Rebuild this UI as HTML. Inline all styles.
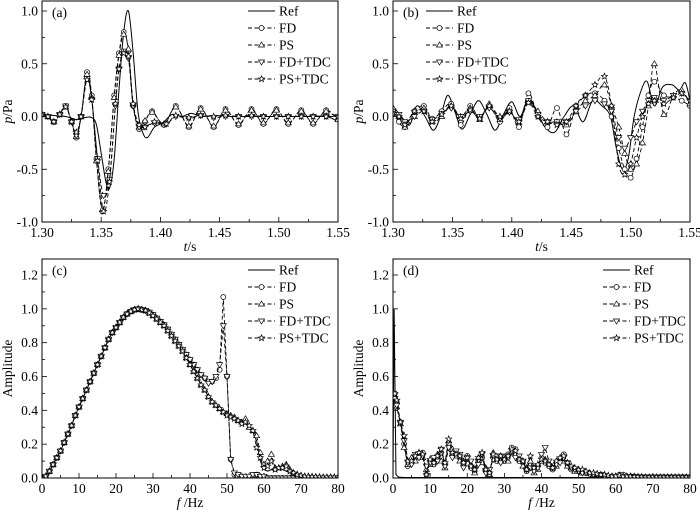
<!DOCTYPE html>
<html><head><meta charset="utf-8"><style>
html,body{margin:0;padding:0;background:#fff}
svg text{font-family:"Liberation Serif",serif;fill:#000}
</style></head><body>
<svg id="fig" width="700" height="512" viewBox="0 0 700 512" xmlns="http://www.w3.org/2000/svg"></svg>
<script>
// ---------- Panel (a) data ----------
const aRefT=[1.300,1.310,1.320,1.330,1.336,1.342,1.346,1.350,1.354,1.357,1.361,1.365,1.369,1.373,1.377,1.381,1.385,1.389,1.395,1.402,1.410,1.418,1.426,1.435,1.445,1.460,1.480,1.500,1.520,1.540,1.550];
const aRefV=[0.02,0.01,0.0,-0.03,-0.01,-0.01,-0.08,-0.35,-0.62,-0.68,-0.4,0.25,0.8,1.0,0.6,0.05,-0.15,-0.2,-0.1,-0.06,0.02,0.0,0.03,0.0,0.01,0.0,0.0,0.0,0.0,0.0,-0.05];
const aFDT=[1.300,1.305,1.310,1.315,1.320,1.325,1.329,1.333,1.338,1.342,1.346,1.351,1.356,1.361,1.365,1.369,1.373,1.377,1.382,1.387,1.393,1.403,1.413,1.424,1.434,1.445,1.455,1.466,1.477,1.487,1.498,1.508,1.519,1.529,1.540,1.550];
const aFDV=[0.02,0.0,-0.05,0.02,0.1,-0.05,-0.2,0.0,0.42,0.2,-0.4,-0.9,-0.5,0.2,0.6,0.8,0.62,0.1,-0.12,-0.05,0.05,-0.08,0.1,-0.1,0.08,-0.1,0.07,-0.08,0.07,-0.07,0.07,-0.07,0.06,-0.07,0.06,-0.03];
const aPSV=[0.02,0.0,-0.05,0.02,0.09,-0.05,-0.19,0.0,0.4,0.18,-0.42,-0.88,-0.52,0.18,0.58,0.78,0.64,0.12,-0.1,-0.04,0.04,-0.07,0.09,-0.09,0.07,-0.09,0.06,-0.07,0.06,-0.06,0.06,-0.06,0.05,-0.06,0.05,-0.03];
const aTDCT=[1.300,1.305,1.310,1.315,1.320,1.325,1.329,1.333,1.338,1.342,1.347,1.352,1.357,1.362,1.365,1.369,1.373,1.377,1.382,1.387,1.395,1.405,1.413,1.424,1.434,1.445,1.455,1.466,1.477,1.487,1.498,1.508,1.519,1.529,1.540,1.550];
const aFDTV=[0.02,0.0,-0.05,0.02,0.1,-0.05,-0.18,0.0,0.36,0.16,-0.4,-0.75,-0.6,0.1,0.45,0.62,0.55,0.1,-0.1,-0.1,-0.06,-0.07,0.0,-0.02,0.01,-0.01,0.0,0.0,0.0,0.0,0.0,0.0,0.0,0.0,0.0,0.0];
const aPSTV=[0.02,0.0,-0.05,0.02,0.09,-0.05,-0.15,0.0,0.35,0.16,-0.42,-0.9,-0.62,0.12,0.45,0.6,0.57,0.12,-0.08,-0.1,-0.05,-0.07,0.01,-0.01,0.01,0.0,0.01,0.0,0.01,0.0,0.0,0.0,0.0,0.0,0.0,0.0];
// ---------- Panel (b) data ----------
const bRefT=[1.300,1.307,1.314,1.320,1.327,1.334,1.340,1.346,1.352,1.358,1.365,1.372,1.379,1.386,1.393,1.400,1.407,1.414,1.421,1.428,1.436,1.444,1.452,1.460,1.468,1.476,1.483,1.488,1.493,1.498,1.503,1.509,1.514,1.520,1.527,1.535,1.541,1.546,1.550];
const bRefV=[0.1,0.0,-0.08,0.1,0.0,-0.13,0.0,0.2,0.05,-0.12,0.02,0.15,0.02,-0.13,0.02,0.14,0.0,0.17,0.05,-0.1,-0.15,0.0,0.1,-0.05,0.15,0.1,0.0,-0.3,-0.5,-0.4,0.0,0.25,0.33,0.1,0.28,0.3,0.25,0.32,0.15];
const bFDT=[1.300,1.305,1.310,1.318,1.326,1.333,1.341,1.349,1.357,1.365,1.373,1.381,1.390,1.398,1.406,1.414,1.422,1.430,1.438,1.446,1.454,1.462,1.470,1.478,1.484,1.490,1.495,1.500,1.505,1.510,1.515,1.520,1.528,1.536,1.543,1.550];
const bFDV=[0.05,-0.05,-0.1,0.05,0.1,-0.02,0.05,0.12,-0.08,0.1,-0.02,0.1,-0.05,0.08,-0.1,0.22,0.0,-0.1,0.08,-0.17,0.1,0.2,0.22,0.15,0.0,-0.3,-0.5,-0.58,-0.4,-0.1,0.2,0.33,0.2,0.18,0.15,0.1];
const bPSV=[0.08,0.0,-0.1,0.0,0.08,-0.05,0.0,0.1,0.0,0.08,-0.03,0.12,-0.03,0.05,-0.06,0.14,0.05,-0.05,-0.05,-0.08,0.05,0.15,0.2,0.3,0.1,-0.1,-0.35,-0.5,-0.45,-0.25,0.1,0.5,0.02,0.2,0.25,0.12];
const bFDTV=[0.05,0.02,-0.05,0.0,0.05,-0.03,0.03,0.08,0.0,0.05,0.0,0.08,-0.02,0.04,-0.03,0.15,0.02,-0.05,-0.05,-0.05,0.05,0.1,0.15,0.12,0.05,-0.2,-0.3,-0.2,-0.05,0.05,0.15,0.18,0.15,0.2,0.22,0.15];
const bPSTV=[0.03,0.0,-0.08,0.05,0.05,-0.05,0.02,0.1,-0.02,0.06,-0.02,0.1,0.0,0.05,-0.05,0.13,0.0,-0.05,-0.08,-0.05,0.1,0.2,0.3,0.38,0.1,-0.45,-0.55,-0.45,-0.2,0.0,0.12,0.15,0.12,0.18,0.22,0.15];
// ---------- Panel (c) data ----------
const cF=[0,1,2,3,4,5,6,7,8,9,10,11,12,13,14,15,16,17,18,19,20,21,22,23,24,25,26,27,28,29,30,31,32,33,34,35,36,37,38,39,40,41,42,43,44,45,46,47,48,49,50,51,52,53,54,55,56,57,58,59,60,61,62,63,64,65,66,67,68,69,70,71,72,73,74,75,76,77,78,79,80];
const cRef=[0,0.01,0.04,0.08,0.12,0.16,0.21,0.26,0.31,0.37,0.42,0.47,0.52,0.57,0.62,0.67,0.72,0.77,0.82,0.86,0.89,0.92,0.95,0.97,0.985,0.995,1.0,0.995,0.99,0.975,0.96,0.94,0.92,0.9,0.87,0.84,0.81,0.78,0.75,0.71,0.67,0.63,0.59,0.55,0.52,0.48,0.45,0.43,0.41,0.39,0.37,0.36,0.35,0.34,0.33,0.32,0.3,0.27,0.22,0.1,0.05,0.04,0.05,0.04,0.05,0.05,0.04,0.03,0.02,0.015,0.01,0.01,0.008,0.007,0.006,0.005,0.005,0.005,0.005,0.005,0.005];
const cFD=[0,0.01,0.04,0.08,0.12,0.16,0.21,0.26,0.31,0.37,0.42,0.47,0.52,0.57,0.62,0.67,0.72,0.77,0.82,0.86,0.89,0.92,0.95,0.97,0.985,0.995,1.0,0.995,0.99,0.98,0.965,0.945,0.925,0.905,0.88,0.85,0.82,0.79,0.76,0.73,0.7,0.67,0.64,0.61,0.59,0.57,0.57,0.59,0.64,1.07,0.6,0.11,0.02,0.01,0.01,0.01,0.01,0.015,0.02,0.01,0.01,0.0,0.0,0.0,0.0,0.0,0.0,0.0,0.0,0.0,0.0,0.0,0.0,0.0,0.0,0.0,0.0,0.0,0.0,0.0,0.0];
const cPS=[0,0.01,0.04,0.08,0.12,0.16,0.21,0.26,0.31,0.37,0.42,0.47,0.52,0.57,0.62,0.67,0.72,0.77,0.82,0.86,0.89,0.92,0.95,0.97,0.985,0.995,1.0,0.995,0.99,0.975,0.96,0.94,0.92,0.9,0.87,0.84,0.81,0.78,0.75,0.71,0.67,0.63,0.59,0.55,0.52,0.48,0.45,0.43,0.41,0.39,0.38,0.37,0.36,0.34,0.33,0.35,0.3,0.28,0.25,0.15,0.08,0.1,0.14,0.06,0.06,0.07,0.08,0.05,0.03,0.02,0.015,0.01,0.01,0.008,0.007,0.006,0.005,0.005,0.005,0.005,0.005];
const cFDT=[0,0.01,0.04,0.08,0.12,0.16,0.21,0.26,0.31,0.37,0.42,0.47,0.52,0.57,0.62,0.67,0.72,0.77,0.82,0.86,0.89,0.92,0.95,0.97,0.985,0.995,1.0,0.995,0.99,0.98,0.965,0.945,0.925,0.905,0.88,0.85,0.82,0.79,0.76,0.73,0.7,0.67,0.64,0.61,0.59,0.56,0.57,0.6,0.67,0.9,0.6,0.11,0.03,0.02,0.01,0.01,0.01,0.02,0.02,0.01,0.01,0.0,0.0,0.0,0.0,0.0,0.0,0.0,0.0,0.0,0.0,0.0,0.0,0.0,0.0,0.0,0.0,0.0,0.0,0.0,0.0];
const cPST=[0,0.01,0.04,0.08,0.12,0.16,0.21,0.26,0.31,0.37,0.42,0.47,0.52,0.57,0.62,0.67,0.72,0.77,0.82,0.86,0.89,0.92,0.95,0.97,0.985,0.995,1.0,0.995,0.99,0.975,0.96,0.94,0.92,0.9,0.87,0.84,0.81,0.78,0.75,0.71,0.67,0.63,0.59,0.55,0.52,0.48,0.45,0.43,0.41,0.39,0.37,0.36,0.35,0.34,0.32,0.33,0.31,0.28,0.18,0.12,0.06,0.07,0.1,0.05,0.06,0.06,0.07,0.04,0.03,0.02,0.015,0.01,0.01,0.008,0.007,0.006,0.005,0.005,0.005,0.005,0.005];
// ---------- Panel (d) data ----------
const dRefF=[0,0.3,0.8,1.5,3,80];
const dRefV=[0,1.0,0.02,0.005,0.003,0.003];
const dFD=[0.5,0.45,0.33,0.2,0.07,0.1,0.12,0.14,0.15,0.02,0.1,0.08,0.12,0.15,0.08,0.2,0.14,0.15,0.12,0.08,0.13,0.06,0.04,0.1,0.12,0.04,0.03,0.13,0.1,0.12,0.1,0.14,0.18,0.17,0.1,0.09,0.04,0.08,0.05,0.07,0.12,0.09,0.07,0.05,0.09,0.11,0.14,0.08,0.05,0.05,0.04,0.04,0.03,0.025,0.02,0.02,0.015,0.015,0.01,0.01,0.01,0.02,0.02,0.01,0.01,0.008,0.007,0.006,0.005,0.005,0.005,0.005,0.005,0.005,0.005,0.005,0.005,0.005,0.005,0.005,0.005];
const dPS=[0.48,0.42,0.32,0.18,0.08,0.12,0.1,0.15,0.12,0.05,0.08,0.1,0.14,0.1,0.06,0.22,0.17,0.13,0.1,0.1,0.11,0.08,0.03,0.12,0.09,0.06,0.02,0.15,0.12,0.1,0.12,0.1,0.15,0.14,0.12,0.07,0.06,0.1,0.03,0.05,0.1,0.11,0.09,0.06,0.07,0.1,0.1,0.07,0.06,0.04,0.05,0.03,0.03,0.03,0.02,0.02,0.02,0.015,0.01,0.01,0.01,0.015,0.01,0.01,0.01,0.008,0.007,0.006,0.005,0.005,0.005,0.005,0.005,0.005,0.005,0.005,0.005,0.005,0.005,0.005,0.005];
const dFDT=[0.47,0.43,0.33,0.22,0.09,0.08,0.14,0.12,0.13,0.07,0.09,0.12,0.1,0.17,0.07,0.18,0.12,0.16,0.14,0.06,0.12,0.1,0.05,0.08,0.14,0.03,0.05,0.11,0.13,0.09,0.13,0.12,0.16,0.12,0.13,0.1,0.05,0.06,0.04,0.06,0.14,0.18,0.1,0.06,0.08,0.09,0.12,0.09,0.06,0.05,0.04,0.03,0.03,0.02,0.02,0.02,0.02,0.01,0.01,0.01,0.01,0.01,0.01,0.01,0.01,0.008,0.007,0.006,0.005,0.005,0.005,0.005,0.005,0.005,0.005,0.005,0.005,0.005,0.005,0.005,0.005];
const dPST=[0.5,0.46,0.33,0.25,0.1,0.1,0.13,0.15,0.14,0.02,0.11,0.09,0.13,0.17,0.09,0.23,0.15,0.14,0.13,0.09,0.12,0.07,0.05,0.12,0.15,0.05,0.03,0.14,0.11,0.13,0.11,0.13,0.17,0.16,0.11,0.1,0.05,0.13,0.06,0.08,0.11,0.1,0.08,0.06,0.1,0.12,0.13,0.09,0.07,0.06,0.05,0.05,0.04,0.03,0.03,0.025,0.02,0.02,0.015,0.01,0.01,0.015,0.01,0.01,0.01,0.008,0.007,0.006,0.005,0.005,0.005,0.005,0.005,0.005,0.005,0.005,0.005,0.005,0.005,0.005,0.005];
const dF=[0.5,1,2,3,4,5,6,7,8,9,10,11,12,13,14,15,16,17,18,19,20,21,22,23,24,25,26,27,28,29,30,31,32,33,34,35,36,37,38,39,40,41,42,43,44,45,46,47,48,49,50,51,52,53,54,55,56,57,58,59,60,61,62,63,64,65,66,67,68,69,70,71,72,73,74,75,76,77,78,79,80];
// ---------- tick labels ----------
const tTicks=[1.30,1.35,1.40,1.45,1.50,1.55];
const pTicks=[-1.0,-0.5,0.0,0.5,1.0];
const fTicks=[0,10,20,30,40,50,60,70,80];
const ampTicks=[0.0,0.2,0.4,0.6,0.8,1.0,1.2];
const legendNames=["Ref","FD","PS","FD+TDC","PS+TDC"];

const NS="http://www.w3.org/2000/svg";
const svg=document.getElementById('fig');
function mk(tag,attrs,parent){const e=document.createElementNS(NS,tag);for(const k in attrs)e.setAttribute(k,attrs[k]);(parent||svg).appendChild(e);return e;}
function txt(s,x,y,opts,parent){const e=mk('text',Object.assign({x:x,y:y,'font-size':13.5},opts||{}),parent);e.textContent=s;return e;}

function marker(g,type,x,y){
  const st={fill:'#fff',stroke:'#000','stroke-width':0.7};
  let e;
  if(type==='circle'){e=mk('circle',Object.assign({cx:x,cy:y,r:2.5},st),g);}
  else if(type==='up'){e=mk('polygon',Object.assign({points:`${x},${y-3} ${x+3},${y+2} ${x-3},${y+2}`},st),g);}
  else if(type==='down'){e=mk('polygon',Object.assign({points:`${x},${y+3} ${x+3},${y-2} ${x-3},${y-2}`},st),g);}
  else if(type==='star'){let p=[];for(let i=0;i<10;i++){const r=i%2?1.4:3.2,a=-Math.PI/2+i*Math.PI/5;p.push((x+r*Math.cos(a)).toFixed(1)+','+(y+r*Math.sin(a)).toFixed(1));}e=mk('polygon',Object.assign({points:p.join(' ')},st),g);}
  if(e){}
}
function smoothPath(pts){
  let d=`M${pts[0][0]},${pts[0][1]}`;
  for(let i=0;i<pts.length-1;i++){
    const p0=pts[Math.max(0,i-1)],p1=pts[i],p2=pts[i+1],p3=pts[Math.min(pts.length-1,i+2)];
    const c1=[p1[0]+(p2[0]-p0[0])/6,p1[1]+(p2[1]-p0[1])/6],c2=[p2[0]-(p3[0]-p1[0])/6,p2[1]-(p3[1]-p1[1])/6];
    d+=` C${c1[0].toFixed(2)},${c1[1].toFixed(2)} ${c2[0].toFixed(2)},${c2[1].toFixed(2)} ${p2[0].toFixed(2)},${p2[1].toFixed(2)}`;
  }
  return d;
}
const mtypes=[null,'circle','up','down','star'];

function panel(cfg){
  const g=mk('g',{});
  
  
  const L=cfg.L,R=cfg.R,T=cfg.T,B=cfg.B;
  const sx=v=>L+(v-cfg.x0)/(cfg.x1-cfg.x0)*(R-L);
  const sy=v=>cfg.Y0+(v-cfg.y0)/(cfg.y1-cfg.y0)*(cfg.Y1-cfg.Y0);
  const clip='clip-'+cfg.id;
  const cp=mk('clipPath',{id:clip},g);mk('rect',{x:L,y:T,width:R-L,height:B-T},cp);
  const tg=mk('g',{stroke:'#000','stroke-width':0.8},g);
  
  cfg.xt.forEach((v,i)=>{const x=sx(v);mk('line',{x1:x,y1:B,x2:x,y2:B-5},tg);
    if(i<cfg.xt.length-1){const xm=sx((v+cfg.xt[i+1])/2);mk('line',{x1:xm,y1:B,x2:xm,y2:B-3},tg);}
    const t=txt(cfg.xfmt(v),x,B+15,{'text-anchor':'middle'},g);});
  cfg.yt.forEach((v,i)=>{const y=sy(v);mk('line',{x1:L,y1:y,x2:L+5,y2:y},tg);
    if(i<cfg.yt.length-1){const ym=sy((v+cfg.yt[i+1])/2);mk('line',{x1:L,y1:ym,x2:L+3,y2:ym},tg);}
    const t=txt(v.toFixed(1),L-4,y+4.5,{'text-anchor':'end'},g);});
  const sg=mk('g',{'clip-path':`url(#${clip})`},g);
  cfg.series.forEach((s,k)=>{
    const pts=s.x.map((v,i)=>[sx(v),sy(s.y[i])]);
    const d=cfg.smooth?smoothPath(pts):'M'+pts.map(p=>p[0].toFixed(2)+','+p[1].toFixed(2)).join(' L');
    const p=mk('path',{d:d,fill:'none',stroke:'#000','stroke-width':k===0?1:0.9,'stroke-dasharray':k===0?'none':'4,2.5'},sg);
    
    
    if(k>0){pts.forEach((pt,i)=>{marker(sg,mtypes[k],pt[0],pt[1]);});}
  });
  const fr=mk('rect',{x:L,y:T,width:R-L,height:B-T,fill:'none',stroke:'#000','stroke-width':1},g);
  
  const pl=txt(cfg.label,L+10,T+cfg.labelDy,{},g);
  const lg=mk('g',{},g);
  legendNames.forEach((n,k)=>{
    const y=cfg.legY+k*17;
    const e=mk('g',{},lg);
    mk('line',{x1:cfg.legX,y1:y,x2:cfg.legX+27,y2:y,stroke:'#000','stroke-width':k===0?1:0.9,'stroke-dasharray':k===0?'none':'4,2.5'},e);
    if(k>0)marker(e,mtypes[k],cfg.legX+13.5,y);
    txt(n,cfg.legX+31,y+4.5,{},e);
  });
  const xt=mk('text',{x:(L+R)/2,y:B+29,'font-size':13.5,'text-anchor':'middle'},g);
  
  xt.innerHTML=cfg.xtitle;
  const yt=mk('text',{x:0,y:0,'font-size':13.5,'text-anchor':'middle',transform:`translate(${L-30},${(T+B)/2}) rotate(-90)`},g);
  
  yt.innerHTML=cfg.ytitle;
}
const pfmt=v=>v.toFixed(2), ffmt=v=>String(v);
const tsTitle='<tspan font-style="italic">t</tspan>/s', paTitle='<tspan font-style="italic">p</tspan>/Pa';
const fTitle='<tspan font-style="italic">f</tspan> /Hz';
panel({id:'a',name:'panel-a-time',L:42,R:338,T:1,B:222,x0:1.30,x1:1.55,y0:-1,y1:1,Y0:222,Y1:11,xt:tTicks,yt:pTicks,xfmt:pfmt,smooth:true,label:'(a)',labelDy:16,legX:248,legY:11,xtitle:tsTitle,ytitle:paTitle,
 series:[{x:aRefT,y:aRefV},{x:aFDT,y:aFDV},{x:aFDT,y:aPSV},{x:aTDCT,y:aFDTV},{x:aTDCT,y:aPSTV}]});
panel({id:'b',name:'panel-b-time',L:393,R:690,T:1,B:222,x0:1.30,x1:1.55,y0:-1,y1:1,Y0:222,Y1:11,xt:tTicks,yt:pTicks,xfmt:pfmt,smooth:true,label:'(b)',labelDy:16,legX:426,legY:11,xtitle:tsTitle,ytitle:paTitle,
 series:[{x:bRefT,y:bRefV},{x:bFDT,y:bFDV},{x:bFDT,y:bPSV},{x:bFDT,y:bFDTV},{x:bFDT,y:bPSTV}]});
panel({id:'c',name:'panel-c-spectrum',L:42,R:338,T:259,B:478,x0:0,x1:80,y0:0,y1:1.2,Y0:478,Y1:275,xt:fTicks,yt:ampTicks,xfmt:ffmt,smooth:false,label:'(c)',labelDy:16,legX:248,legY:270,xtitle:fTitle,ytitle:'Amplitude',
 series:[{x:cF,y:cRef},{x:cF,y:cFD},{x:cF,y:cPS},{x:cF,y:cFDT},{x:cF,y:cPST}]});
panel({id:'d',name:'panel-d-spectrum',L:393,R:690,T:259,B:478,x0:0,x1:80,y0:0,y1:1.2,Y0:478,Y1:275,xt:fTicks,yt:ampTicks,xfmt:ffmt,smooth:false,label:'(d)',labelDy:16,legX:603,legY:270,xtitle:fTitle,ytitle:'Amplitude',
 series:[{x:dRefF,y:dRefV},{x:dF,y:dFD},{x:dF,y:dPS},{x:dF,y:dFDT},{x:dF,y:dPST}]});
</script>
</body></html>
